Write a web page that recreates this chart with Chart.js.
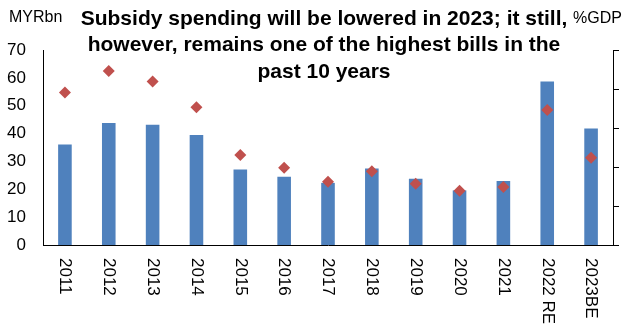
<!DOCTYPE html>
<html>
<head>
<meta charset="utf-8">
<script src="https://cdn.jsdelivr.net/npm/chart.js@4"></script>
<style>
  body { margin: 0; background: #fff; }
  #wrap { width: 629px; height: 333px; position: relative; }
</style>
</head>
<body>
<div id="wrap"><canvas id="chart"></canvas></div>
<script>
// Chart data (MYR bn on the left axis, % of GDP on the right axis)
const years = ['2011', '2012', '2013', '2014', '2015', '2016', '2017', '2018', '2019', '2020', '2021', '2022 RE', '2023BE'];
const subsidyBn = [36.1, 43.8, 43.2, 39.5, 27.1, 24.5, 22.3, 27.5, 23.8, 19.6, 23.0, 58.7, 41.8];
const subsidyPctGdp = [3.91, 4.46, 4.19, 3.53, 2.31, 1.98, 1.62, 1.89, 1.57, 1.39, 1.49, 3.46, 2.24];
const titleLines = [
    'Subsidy spending will be lowered in 2023; it still,',
    'however, remains one of the highest bills in the',
    'past 10 years'
];

const fontFamily = '"Liberation Sans", Arial, sans-serif';

// Draws the title, axis unit labels and the vertical category labels
const textPlugin = {
    id: 'textPlugin',
    afterDraw(chart) {
        const ctx = chart.ctx;
        ctx.save();
        ctx.fillStyle = '#000';

        // unit labels
        ctx.font = '16px ' + fontFamily;
        ctx.textBaseline = 'middle';
        ctx.textAlign = 'left';
        ctx.fillText('MYRbn', 9, 18);
        ctx.fillText('%GDP', 573, 19);

        // title
        ctx.font = 'bold 21px ' + fontFamily;
        ctx.textAlign = 'center';
        titleLines.forEach((line, i) => {
            ctx.fillText(line, 324, 19 + i * 26.5);
        });

        // x labels, rotated clockwise
        const xScale = chart.scales.x;
        ctx.font = '17px ' + fontFamily;
        ctx.textAlign = 'left';
        ctx.textBaseline = 'middle';
        years.forEach((label, i) => {
            const x = xScale.getPixelForTick(i);
            ctx.save();
            ctx.translate(x, chart.chartArea.bottom + 13);
            ctx.rotate(Math.PI / 2);
            ctx.fillText(label, 0, 0);
            ctx.restore();
        });
        ctx.restore();
    }
};

const ctx = document.getElementById('chart').getContext('2d');
const chart = new Chart(ctx, {
    type: 'bar',
    data: {
        labels: years,
        datasets: [
            {
                type: 'line',
                label: '%GDP',
                data: subsidyPctGdp,
                yAxisID: 'y1',
                showLine: false,
                pointStyle: 'rectRot',
                pointRadius: 6,
                pointBackgroundColor: '#C0504D',
                pointBorderColor: '#C0504D',
                pointBorderWidth: 0,
                order: 1
            },
            {
                type: 'bar',
                label: 'MYRbn',
                data: subsidyBn,
                yAxisID: 'y',
                backgroundColor: '#4F81BD',
                barPercentage: 0.31,
                categoryPercentage: 1.0,
                order: 2
            }
        ]
    },
    options: {
        responsive: true,
        maintainAspectRatio: false,
        animation: false,
        layout: { padding: { top: 50, left: 0, right: 0, bottom: 0 } },
        plugins: {
            legend: { display: false },
            tooltip: { enabled: false }
        },
        scales: {
            x: {
                grid: { display: false },
                border: { display: true, color: '#000', width: 1 },
                ticks: { display: false },
                afterFit(scale) { scale.height = 88; }
            },
            y: {
                position: 'left',
                min: 0,
                max: 70,
                grid: { display: false, drawTicks: false },
                border: { display: true, color: '#000', width: 1 },
                ticks: {
                    stepSize: 10,
                    color: '#000',
                    padding: 17,
                    font: { size: 17, family: fontFamily }
                },
                afterFit(scale) { scale.width = 43; }
            },
            y1: {
                position: 'right',
                min: 0,
                max: 5,
                grid: { drawOnChartArea: false, drawTicks: true, tickLength: 6, color: '#000' },
                border: { display: true, color: '#000', width: 1 },
                ticks: { stepSize: 1, display: false },
                afterFit(scale) { scale.width = 16; }
            }
        }
    },
    plugins: [textPlugin]
});
</script>
</body>
</html>
